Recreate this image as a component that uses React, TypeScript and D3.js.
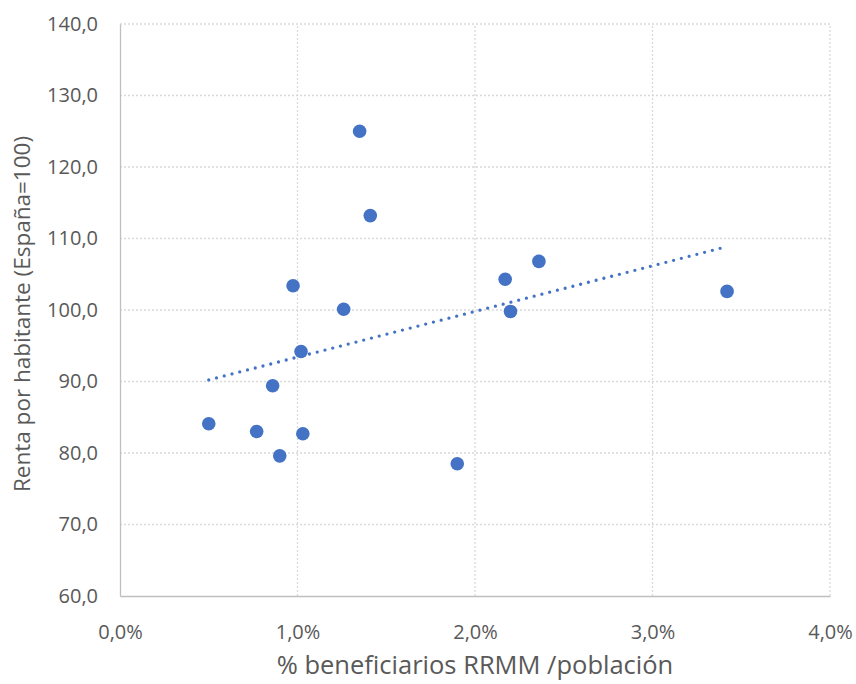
import React, { useEffect, useRef } from "react";
import { select, scaleLinear, axisBottom, axisLeft, line, range } from "d3";

// % beneficiarios RRMM / población
const beneficiarios: number[] = [
  0.5, 0.77, 0.86, 0.9, 0.975, 1.02, 1.03, 1.26, 1.35, 1.41, 1.9, 2.17, 2.2, 2.36, 3.42,
];
// Renta por habitante (España=100)
const renta: number[] = [
  84.1, 83.0, 89.4, 79.6, 103.4, 94.2, 82.7, 100.1, 125.0, 113.2, 78.5, 104.3, 99.8, 106.8, 102.6,
];
const xTicks: number[] = [0, 1, 2, 3, 4];
const yTicks: number[] = [60, 70, 80, 90, 100, 110, 120, 130, 140];

const W = 856;
const H = 684;
const margin = { left: 120, right: 26, top: 24, bottom: 88 };
const FONT = "'Open Sans', 'Noto Sans', sans-serif";
const BLUE = "#4472C4";
const TEXT = "#595959";

const App: React.FC = () => {
  const svgRef = useRef<SVGSVGElement | null>(null);

  useEffect(() => {
    const svg = select(svgRef.current);
    svg.selectAll("*").remove();

    const x = scaleLinear().domain([0, 4]).range([margin.left, W - margin.right]);
    const y = scaleLinear().domain([60, 140]).range([H - margin.bottom, margin.top]);

    // gridlines
    const grid = svg.append("g");
    grid
      .selectAll(".hg")
      .data(yTicks.slice(1))
      .join("line")
      .attr("x1", x(0))
      .attr("x2", x(4))
      .attr("y1", (d) => y(d))
      .attr("y2", (d) => y(d))
      .attr("stroke", "#d9d9d9")
      .attr("stroke-width", 1.3)
      .attr("stroke-dasharray", "2 2");
    grid
      .selectAll(".vg")
      .data(xTicks.slice(1))
      .join("line")
      .attr("x1", (d) => x(d))
      .attr("x2", (d) => x(d))
      .attr("y1", y(60))
      .attr("y2", y(140))
      .attr("stroke", "#d9d9d9")
      .attr("stroke-width", 1.3)
      .attr("stroke-dasharray", "2 2");

    // axes
    const xAxis = svg
      .append("g")
      .attr("transform", `translate(0,${y(60)})`)
      .call(
        axisBottom(x)
          .tickValues(xTicks)
          .tickSize(0)
          .tickPadding(29)
          .tickFormat((d) => `${(+d).toFixed(1).replace(".", ",")}%`)
      );
    const yAxis = svg
      .append("g")
      .attr("transform", `translate(${x(0)},0)`)
      .call(
        axisLeft(y)
          .tickValues(yTicks)
          .tickSize(0)
          .tickPadding(22)
          .tickFormat((d) => (+d).toFixed(1).replace(".", ","))
      );
    [xAxis, yAxis].forEach((g) => {
      g.select(".domain").attr("stroke", "#bfbfbf").attr("stroke-width", 1.3);
      g.selectAll("text")
        .attr("fill", TEXT)
        .style("font-family", FONT)
        .style("font-size", "20px");
    });

    // trendline (least squares)
    const n = beneficiarios.length;
    const mx = beneficiarios.reduce((a, b) => a + b, 0) / n;
    const my = renta.reduce((a, b) => a + b, 0) / n;
    let sxy = 0;
    let sxx = 0;
    range(n).forEach((i) => {
      sxy += (beneficiarios[i] - mx) * (renta[i] - my);
      sxx += (beneficiarios[i] - mx) ** 2;
    });
    const slope = sxy / sxx;
    const icpt = my - slope * mx;
    const xMin = Math.min(...beneficiarios);
    const xMax = Math.max(...beneficiarios);
    const trend = line<number>()
      .x((d) => x(d))
      .y((d) => y(icpt + slope * d));
    svg
      .append("path")
      .attr("d", trend([xMin, xMax]))
      .attr("fill", "none")
      .attr("stroke", BLUE)
      .attr("stroke-width", 3.3)
      .attr("stroke-linecap", "round")
      .attr("stroke-dasharray", "0 8");

    // points
    svg
      .append("g")
      .selectAll("circle")
      .data(range(n))
      .join("circle")
      .attr("cx", (i) => x(beneficiarios[i]))
      .attr("cy", (i) => y(renta[i]))
      .attr("r", 6.8)
      .attr("fill", BLUE);

    // axis titles
    svg
      .append("text")
      .attr("x", 475)
      .attr("y", 674)
      .attr("text-anchor", "middle")
      .attr("fill", TEXT)
      .style("font-family", FONT)
      .style("font-size", "25.5px")
      .text("% beneficiarios RRMM /población");
    svg
      .append("text")
      .attr("transform", `translate(30,314) rotate(-90)`)
      .attr("text-anchor", "middle")
      .attr("fill", TEXT)
      .style("font-family", FONT)
      .style("font-size", "22.5px")
      .text("Renta por habitante (España=100)");
  }, []);

  return (
    <svg
      ref={svgRef}
      width={W}
      height={H}
      style={{ position: "absolute", left: 0, top: 0, background: "white" }}
    />
  );
};

export default App;
